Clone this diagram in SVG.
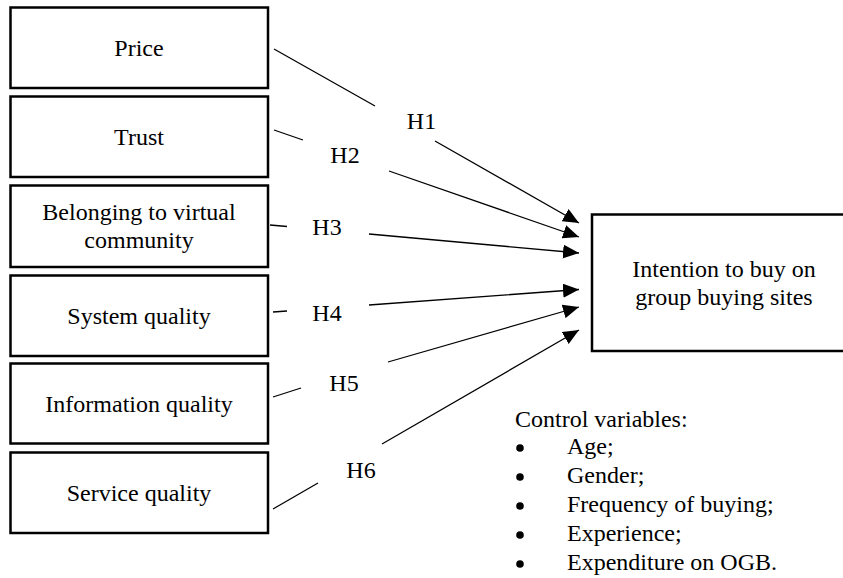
<svg xmlns="http://www.w3.org/2000/svg" width="843" height="578" viewBox="0 0 843 578">
  <style>
    .box { fill: #ffffff; stroke: #000000; stroke-width: 2.5; }
    .lbl { font-family: "Liberation Serif", "Times New Roman", serif; font-size: 24px; fill: #000000; }
    .mid { text-anchor: middle; }
    .dot { fill: #000000; }
    .link { fill: none; stroke: #000000; stroke-width: 1.3; }
  </style>
  <defs>
    <marker id="arrow" markerUnits="userSpaceOnUse" markerWidth="16" markerHeight="14" refX="16" refY="7" orient="auto">
      <path d="M0,0 L16,7 L0,14 z" fill="#000000"/>
    </marker>
  </defs>

  <rect width="843" height="578" fill="#ffffff"/>

  <!-- antecedent constructs -->
  <g id="price">
    <rect class="box" x="10.5" y="7.5" width="257.5" height="80.5"/>
    <text class="lbl mid" x="139" y="56">Price</text>
  </g>
  <g id="trust">
    <rect class="box" x="10.5" y="96.5" width="257.5" height="80.5"/>
    <text class="lbl mid" x="139" y="145">Trust</text>
  </g>
  <g id="belonging">
    <rect class="box" x="10.5" y="185.5" width="257.5" height="81.5"/>
    <text class="lbl mid" x="139" y="220">Belonging to virtual</text>
    <text class="lbl mid" x="139" y="248">community</text>
  </g>
  <g id="system-quality">
    <rect class="box" x="10.5" y="275.5" width="257.5" height="80.5"/>
    <text class="lbl mid" x="139" y="324">System quality</text>
  </g>
  <g id="information-quality">
    <rect class="box" x="10.5" y="363.5" width="257.5" height="80"/>
    <text class="lbl mid" x="139" y="412">Information quality</text>
  </g>
  <g id="service-quality">
    <rect class="box" x="10.5" y="452.5" width="257.5" height="80.5"/>
    <text class="lbl mid" x="139" y="501">Service quality</text>
  </g>

  <!-- outcome construct -->
  <g id="intention">
    <rect class="box" x="592" y="214.5" width="264" height="136.5"/>
    <text class="lbl mid" x="724" y="277">Intention to buy on</text>
    <text class="lbl mid" x="724" y="305">group buying sites</text>
  </g>

  <!-- hypothesised paths, broken around their labels -->
  <g id="connectors">
    <path class="link" d="M274,49 L375,106 M435,141 L579,223" marker-end="url(#arrow)"/>
    <path class="link" d="M274,130 L303,140 M389,171 L579,237" marker-end="url(#arrow)"/>
    <path class="link" d="M270,225 L287,226.5 M369,234 L579,253" marker-end="url(#arrow)"/>
    <path class="link" d="M273,312 L287,311 M369,305 L579,289.5" marker-end="url(#arrow)"/>
    <path class="link" d="M273,397 L301,388 M388,362 L579,307" marker-end="url(#arrow)"/>
    <path class="link" d="M273,509 L318,483 M382,444 L579,330" marker-end="url(#arrow)"/>
  </g>

  <g id="hypothesis-labels">
    <text class="lbl mid" x="421.5" y="129">H1</text>
    <text class="lbl mid" x="345" y="163">H2</text>
    <text class="lbl mid" x="327" y="235">H3</text>
    <text class="lbl mid" x="327" y="321">H4</text>
    <text class="lbl mid" x="344" y="391">H5</text>
    <text class="lbl mid" x="361" y="478">H6</text>
  </g>

  <!-- control variables list -->
  <g id="control-variables">
    <text class="lbl" x="515" y="427">Control variables:</text>
    <circle class="dot" cx="520" cy="448" r="3.8"/>
    <text class="lbl" x="567" y="454">Age;</text>
    <circle class="dot" cx="520" cy="477" r="3.8"/>
    <text class="lbl" x="567" y="483">Gender;</text>
    <circle class="dot" cx="520" cy="506" r="3.8"/>
    <text class="lbl" x="567" y="512">Frequency of buying;</text>
    <circle class="dot" cx="520" cy="535" r="3.8"/>
    <text class="lbl" x="567" y="541">Experience;</text>
    <circle class="dot" cx="520" cy="564" r="3.8"/>
    <text class="lbl" x="567" y="570">Expenditure on OGB.</text>
  </g>
</svg>
